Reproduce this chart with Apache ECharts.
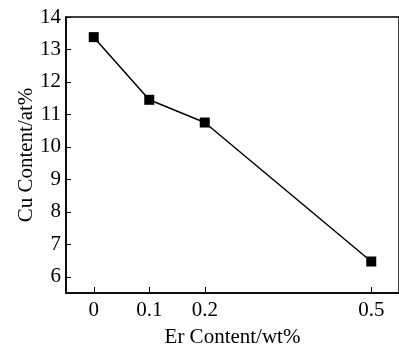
<!DOCTYPE html>
<html>
<head>
<meta charset="utf-8">
<script src="https://cdn.jsdelivr.net/npm/echarts@6/dist/echarts.min.js"></script>
<style>
  html, body { margin: 0; padding: 0; background: #fff; }
  #chart { width: 399px; height: 356px; }
</style>
</head>
<body>
<div id="chart"></div>
<script>
const erContent = [0, 0.1, 0.2, 0.5]
const cuContent = [13.38, 11.45, 10.75, 6.47]
const xTicks = [0, 0.1, 0.2, 0.5]
const yTicks = [6, 7, 8, 9, 10, 11, 12, 13, 14]

const FONT = '"Liberation Serif", "DejaVu Serif", serif'

const chart = echarts.init(document.getElementById('chart'), null, { renderer: 'canvas' })

chart.setOption({
  animation: false,
  backgroundColor: '#fff',
  grid: {
    left: 66, right: -6, top: 17, bottom: 63,
    show: true, borderColor: '#000', borderWidth: 1.5,
  },
  xAxis: {
    type: 'value',
    min: -0.05,
    max: 0.55,
    name: 'Er Content/wt%',
    nameLocation: 'middle',
    nameGap: 34,
    nameMoveOverlap: false,
    nameTextStyle: { color: '#000', fontFamily: FONT, fontSize: 21 },
    axisLine: { show: true, onZero: false, lineStyle: { color: '#000', width: 1.5 } },
    axisTick: { show: true, inside: true, length: 6, customValues: xTicks, lineStyle: { color: '#000', width: 1 } },
    axisLabel: {
      customValues: xTicks,
      color: '#000', fontFamily: FONT, fontSize: 21, margin: 7,
      formatter: v => String(v),
    },
    splitLine: { show: false },
  },
  yAxis: {
    type: 'value',
    min: 5.5,
    max: 14,
    name: 'Cu Content/at%',
    nameLocation: 'middle',
    nameGap: 29,
    nameMoveOverlap: false,
    nameTextStyle: { color: '#000', fontFamily: FONT, fontSize: 21 },
    axisLine: { show: true, onZero: false, lineStyle: { color: '#000', width: 1.5 } },
    axisTick: { show: true, inside: true, length: 5, customValues: yTicks, lineStyle: { color: '#000', width: 1 } },
    axisLabel: {
      customValues: yTicks,
      color: '#000', fontFamily: FONT, fontSize: 21, margin: 5,
    },
    splitLine: { show: false },
  },
  series: [{
    type: 'line',
    data: erContent.map((x, i) => [x, cuContent[i]]),
    symbol: 'rect',
    symbolSize: 10,
    itemStyle: { color: '#000' },
    lineStyle: { color: '#000', width: 1.5 },
  }],
})
</script>
</body>
</html>
